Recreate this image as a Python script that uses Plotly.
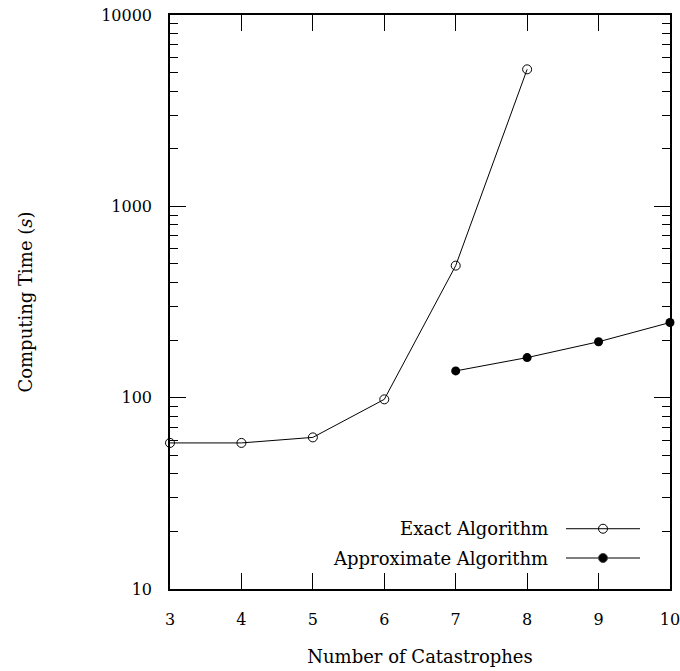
import plotly.graph_objects as go

x_exact = [3, 4, 5, 6, 7, 8]
y_exact = [58, 58, 62, 98, 490, 5200]
x_approx = [7, 8, 9, 10]
y_approx = [138, 162, 196, 247]
legend_names = ["Exact Algorithm", "Approximate Algorithm"]
y_major = [10, 100, 1000, 10000]
y_minor = [k * 10 ** e for e in range(1, 4) for k in range(2, 10)]
x_ticks = [3, 4, 5, 6, 7, 8, 9, 10]

FONT = "DejaVu Serif"
fsize = 15

fig = go.Figure()
fig.add_trace(go.Scatter(x=x_exact, y=y_exact, mode="lines+markers",
                         line=dict(color="black", width=1),
                         marker=dict(symbol="circle-open", size=9, color="black", line=dict(width=1)),
                         cliponaxis=False, showlegend=False))
fig.add_trace(go.Scatter(x=x_approx, y=y_approx, mode="lines+markers",
                         line=dict(color="black", width=1),
                         marker=dict(symbol="circle", size=9, color="black"),
                         cliponaxis=False, showlegend=False))

# manual legend (symbol after text)
leg_y = [0.105, 0.054]
leg_syms = ["circle-open", "circle"]
for name, ly, sym in zip(legend_names, leg_y, leg_syms):
    fig.add_trace(go.Scatter(x=[0.792, 0.94], y=[ly, ly], mode="lines", xaxis="x2", yaxis="y2",
                             line=dict(color="black", width=1), showlegend=False, hoverinfo="skip"))
    fig.add_trace(go.Scatter(x=[0.866], y=[ly], mode="markers", xaxis="x2", yaxis="y2",
                             marker=dict(symbol=sym, size=9, color="black", line=dict(width=1)),
                             showlegend=False, hoverinfo="skip"))
    fig.add_annotation(x=0.76, y=ly, xref="paper", yref="paper", text=name, showarrow=False,
                       xanchor="right", yanchor="middle", font=dict(family=FONT, size=18, color="black"))

fig.update_layout(
    width=680, height=671,
    margin=dict(l=170, r=10, t=15, b=82),
    paper_bgcolor="white", plot_bgcolor="white",
    font=dict(family=FONT, size=fsize, color="black"),
    xaxis=dict(range=[3, 10], tickvals=x_ticks, ticks="inside", ticklen=16, tickwidth=1,
               tickcolor="black", showline=True, linecolor="black", linewidth=1.5,
               mirror="ticks", showgrid=False, zeroline=False, ticklabelstandoff=15,
               automargin=False, tickfont=dict(size=16), ticklabeloverflow="allow",
               title=dict(text="Number of Catastrophes", standoff=22)),
    yaxis=dict(type="log", range=[1, 4], tickvals=y_major, ticktext=[str(v) for v in y_major],
               ticks="inside", ticklen=16, tickwidth=1, tickcolor="black",
               showline=True, linecolor="black", linewidth=1.5, mirror="ticks",
               showgrid=False, zeroline=False, ticklabelstandoff=13,
               automargin=False, tickfont=dict(size=16), ticklabeloverflow="allow",
               minor=dict(tickvals=y_minor, ticks="inside", ticklen=8, tickcolor="black", tickwidth=1, showgrid=False),
               title=dict(text="Computing Time (<i>s</i>)", standoff=64)),
    xaxis2=dict(range=[0, 1], overlaying="x", visible=False, domain=[0, 1]),
    yaxis2=dict(range=[0, 1], overlaying="y", visible=False),
)

fig.write_html("out.html")
